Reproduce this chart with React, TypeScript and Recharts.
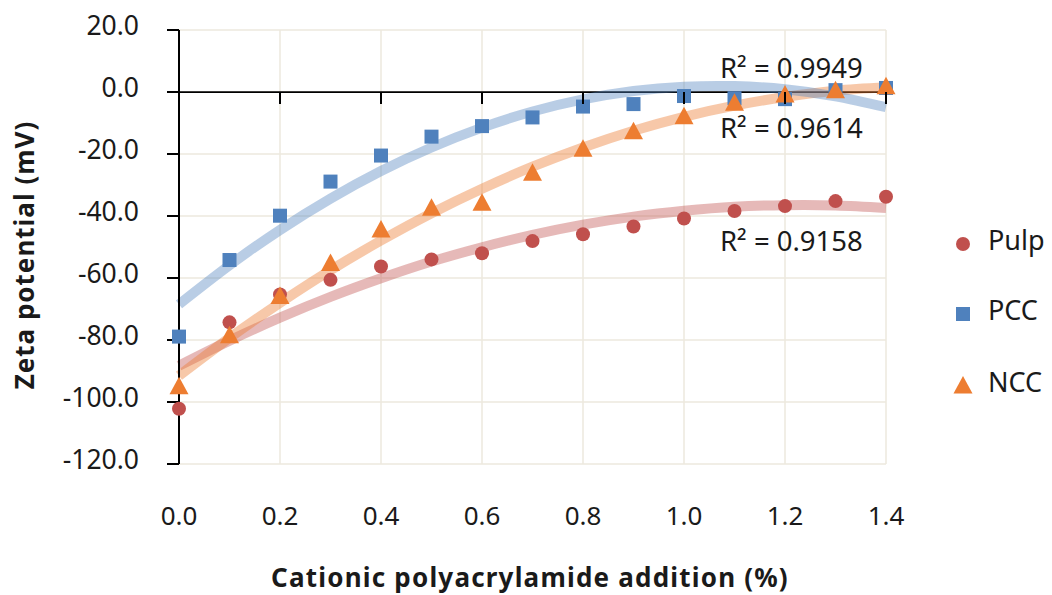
import React from 'react';
import {
  ComposedChart,
  Scatter,
  Line,
  XAxis,
  YAxis,
  CartesianGrid,
  ReferenceLine,
  Customized,
} from 'recharts';

// ---- data ----
const additions = [0, 0.1, 0.2, 0.3, 0.4, 0.5, 0.6, 0.7, 0.8, 0.9, 1.0, 1.1, 1.2, 1.3, 1.4];
const pulpZeta = [-102.2, -74.3, -65.3, -60.6, -56.3, -54.0, -52.0, -48.1, -45.9, -43.4, -40.8, -38.4, -36.8, -35.2, -33.8];
const pccZeta = [-78.9, -54.2, -39.9, -28.9, -20.5, -14.4, -11.0, -8.2, -4.7, -3.9, -1.3, -2.0, -2.3, 0.6, 1.3];
const nccZeta = [-95.1, -78.6, -66.0, -55.3, -44.5, -37.5, -35.9, -26.2, -18.5, -12.8, -8.0, -3.6, -1.0, 0.4, 1.7];
// polynomial trendlines, read at each addition step
const pulpTrend = [-88.3, -80.2, -72.8, -66.1, -60.1, -54.7, -50.1, -46.1, -42.8, -40.2, -38.3, -37.0, -36.5, -36.6, -37.4];
const pccTrend = [-68.5, -55.9, -44.5, -34.4, -25.5, -17.9, -11.5, -6.3, -2.4, 0.3, 1.7, 1.9, 0.9, -1.4, -4.9];
const nccTrend = [-91.5, -79.3, -68.0, -57.5, -47.9, -39.1, -31.2, -24.1, -17.9, -12.5, -8.0, -4.4, -1.6, 0.4, 1.5];
const xTicks = [0, 0.2, 0.4, 0.6, 0.8, 1.0, 1.2, 1.4];
const yTicks = [-120, -100, -80, -60, -40, -20, 0, 20];
const seriesNames = ['Pulp', 'PCC', 'NCC'];
const r2Labels = ['R² = 0.9949', 'R² = 0.9614', 'R² = 0.9158'];
const xTitle = 'Cationic polyacrylamide addition (%)';
const yTitle = 'Zeta potential (mV)';

const toPoints = (vals: number[]) => additions.map((x, i) => ({ x, y: vals[i] }));
const pulpData = toPoints(pulpZeta);
const pccData = toPoints(pccZeta);
const nccData = toPoints(nccZeta);
const pulpFit = toPoints(pulpTrend);
const pccFit = toPoints(pccTrend);
const nccFit = toPoints(nccTrend);

// ---- style ----
const W = 1052;
const H = 595;
const PLOT_LEFT = 179;
const PLOT_RIGHT = 886;
const PLOT_TOP = 30;
const PLOT_BOTTOM = 464;
const FONT = '"Noto Sans", sans-serif';
const RED = '#C0504D';
const BLUE = '#4F81BD';
const ORANGE = '#ED7D31';
const TEXT = '#1a1a1a';
const GRID = '#ECE9DE';

const zeroY = PLOT_TOP + ((PLOT_BOTTOM - PLOT_TOP) * 20) / 140;

const Circle = (p: any) => <circle cx={p.cx} cy={p.cy} r={7} fill={RED} />;
const Square = (p: any) => <rect x={p.cx - 7} y={p.cy - 7} width={14} height={14} fill={BLUE} />;
const Tri = (p: any) => (
  <path d={`M${p.cx},${p.cy - 10} L${p.cx + 9.5},${p.cy + 7.5} L${p.cx - 9.5},${p.cy + 7.5} Z`} fill={ORANGE} />
);

const XTick = (p: any) => (
  <g>
    <line x1={p.x} x2={p.x} y1={zeroY} y2={zeroY + 12} stroke="#000" strokeWidth={2} />
    <text x={p.x} y={516} dy="0.35em" textAnchor="middle" fontFamily={FONT} fontSize={26} fill={TEXT}>
      {Number(p.payload.value).toFixed(1)}
    </text>
  </g>
);

const YTick = (p: any) => (
  <text x={p.x} y={p.y - 4} dy="0.35em" textAnchor="end" fontFamily={FONT} fontSize={26.5} fill={TEXT}>
    {Number(p.payload.value).toFixed(1)}
  </text>
);

const Overlay = () => {
  const legendY = [244, 314, 386];
  const shapes = [
    <circle key="c" cx={963} cy={legendY[0]} r={7} fill={RED} />,
    <rect key="s" x={956} y={legendY[1] - 7} width={14} height={14} fill={BLUE} />,
    <path key="t" d={`M963,${legendY[2] - 10} L972.5,${legendY[2] + 7.5} L953.5,${legendY[2] + 7.5} Z`} fill={ORANGE} />,
  ];
  const r2Y = [68, 128, 241];
  return (
    <g>
      {r2Labels.map((t, i) => (
        <text key={t} x={720} y={r2Y[i]} dy="0.35em" fontFamily={FONT} fontSize={27.5} fill={TEXT}>
          {t}
        </text>
      ))}
      {seriesNames.map((n, i) => (
        <g key={n}>
          {shapes[i]}
          <text x={988} y={legendY[i] - 3} dy="0.35em" fontFamily={FONT} fontSize={27} fill={TEXT}>
            {n}
          </text>
        </g>
      ))}
      <text x={530} y={578} dy="0.35em" textAnchor="middle" fontFamily={FONT} fontSize={26} letterSpacing={1.2} fontWeight="bold" fill={TEXT}>
        {xTitle}
      </text>
      <text
        x={25}
        y={255}
        dy="0.35em"
        textAnchor="middle"
        transform="rotate(-90 25 255)"
        fontFamily={FONT}
        fontSize={26}
        letterSpacing={1}
        fontWeight="bold"
        fill={TEXT}
      >
        {yTitle}
      </text>
    </g>
  );
};

export default function App() {
  return (
    <div style={{ position: 'absolute', left: 0, top: 0, width: W, height: H, background: '#fff' }}>
      <ComposedChart
        width={W}
        height={H}
        margin={{ top: PLOT_TOP, right: W - PLOT_RIGHT, bottom: 0, left: 0 }}
      >
        <CartesianGrid stroke={GRID} strokeWidth={1.5} />
        <XAxis
          type="number"
          dataKey="x"
          domain={[0, 1.4]}
          ticks={xTicks}
          axisLine={false}
          tickLine={false}
          tickSize={0}
          tickMargin={0}
          height={H - PLOT_BOTTOM}
          tick={<XTick />}
          interval={0}
        />
        <YAxis
          type="number"
          dataKey="y"
          domain={[-120, 20]}
          ticks={yTicks}
          width={PLOT_LEFT}
          axisLine={{ stroke: '#000', strokeWidth: 2 }}
          tickLine={{ stroke: '#000', strokeWidth: 2 }}
          tickSize={12}
          tickMargin={28}
          tick={<YTick />}
          interval={0}
        />
        <ReferenceLine y={0} stroke="#000" strokeWidth={1.75} />
        <Line data={pulpFit} dataKey="y" type="natural" stroke={RED} strokeOpacity={0.4} strokeWidth={10} dot={false} activeDot={false} isAnimationActive={false} legendType="none" />
        <Line data={nccFit} dataKey="y" type="natural" stroke={ORANGE} strokeOpacity={0.42} strokeWidth={10} dot={false} activeDot={false} isAnimationActive={false} legendType="none" />
        <Scatter name="Pulp" data={pulpData} dataKey="y" shape={Circle} isAnimationActive={false} />
        <Scatter name="PCC" data={pccData} dataKey="y" shape={Square} isAnimationActive={false} />
        <Scatter name="NCC" data={nccData} dataKey="y" shape={Tri} isAnimationActive={false} />
        <Line data={pccFit} dataKey="y" type="natural" stroke={BLUE} strokeOpacity={0.4} strokeWidth={10} dot={false} activeDot={false} isAnimationActive={false} legendType="none" />
        <Customized component={<Overlay />} />
      </ComposedChart>
    </div>
  );
}
